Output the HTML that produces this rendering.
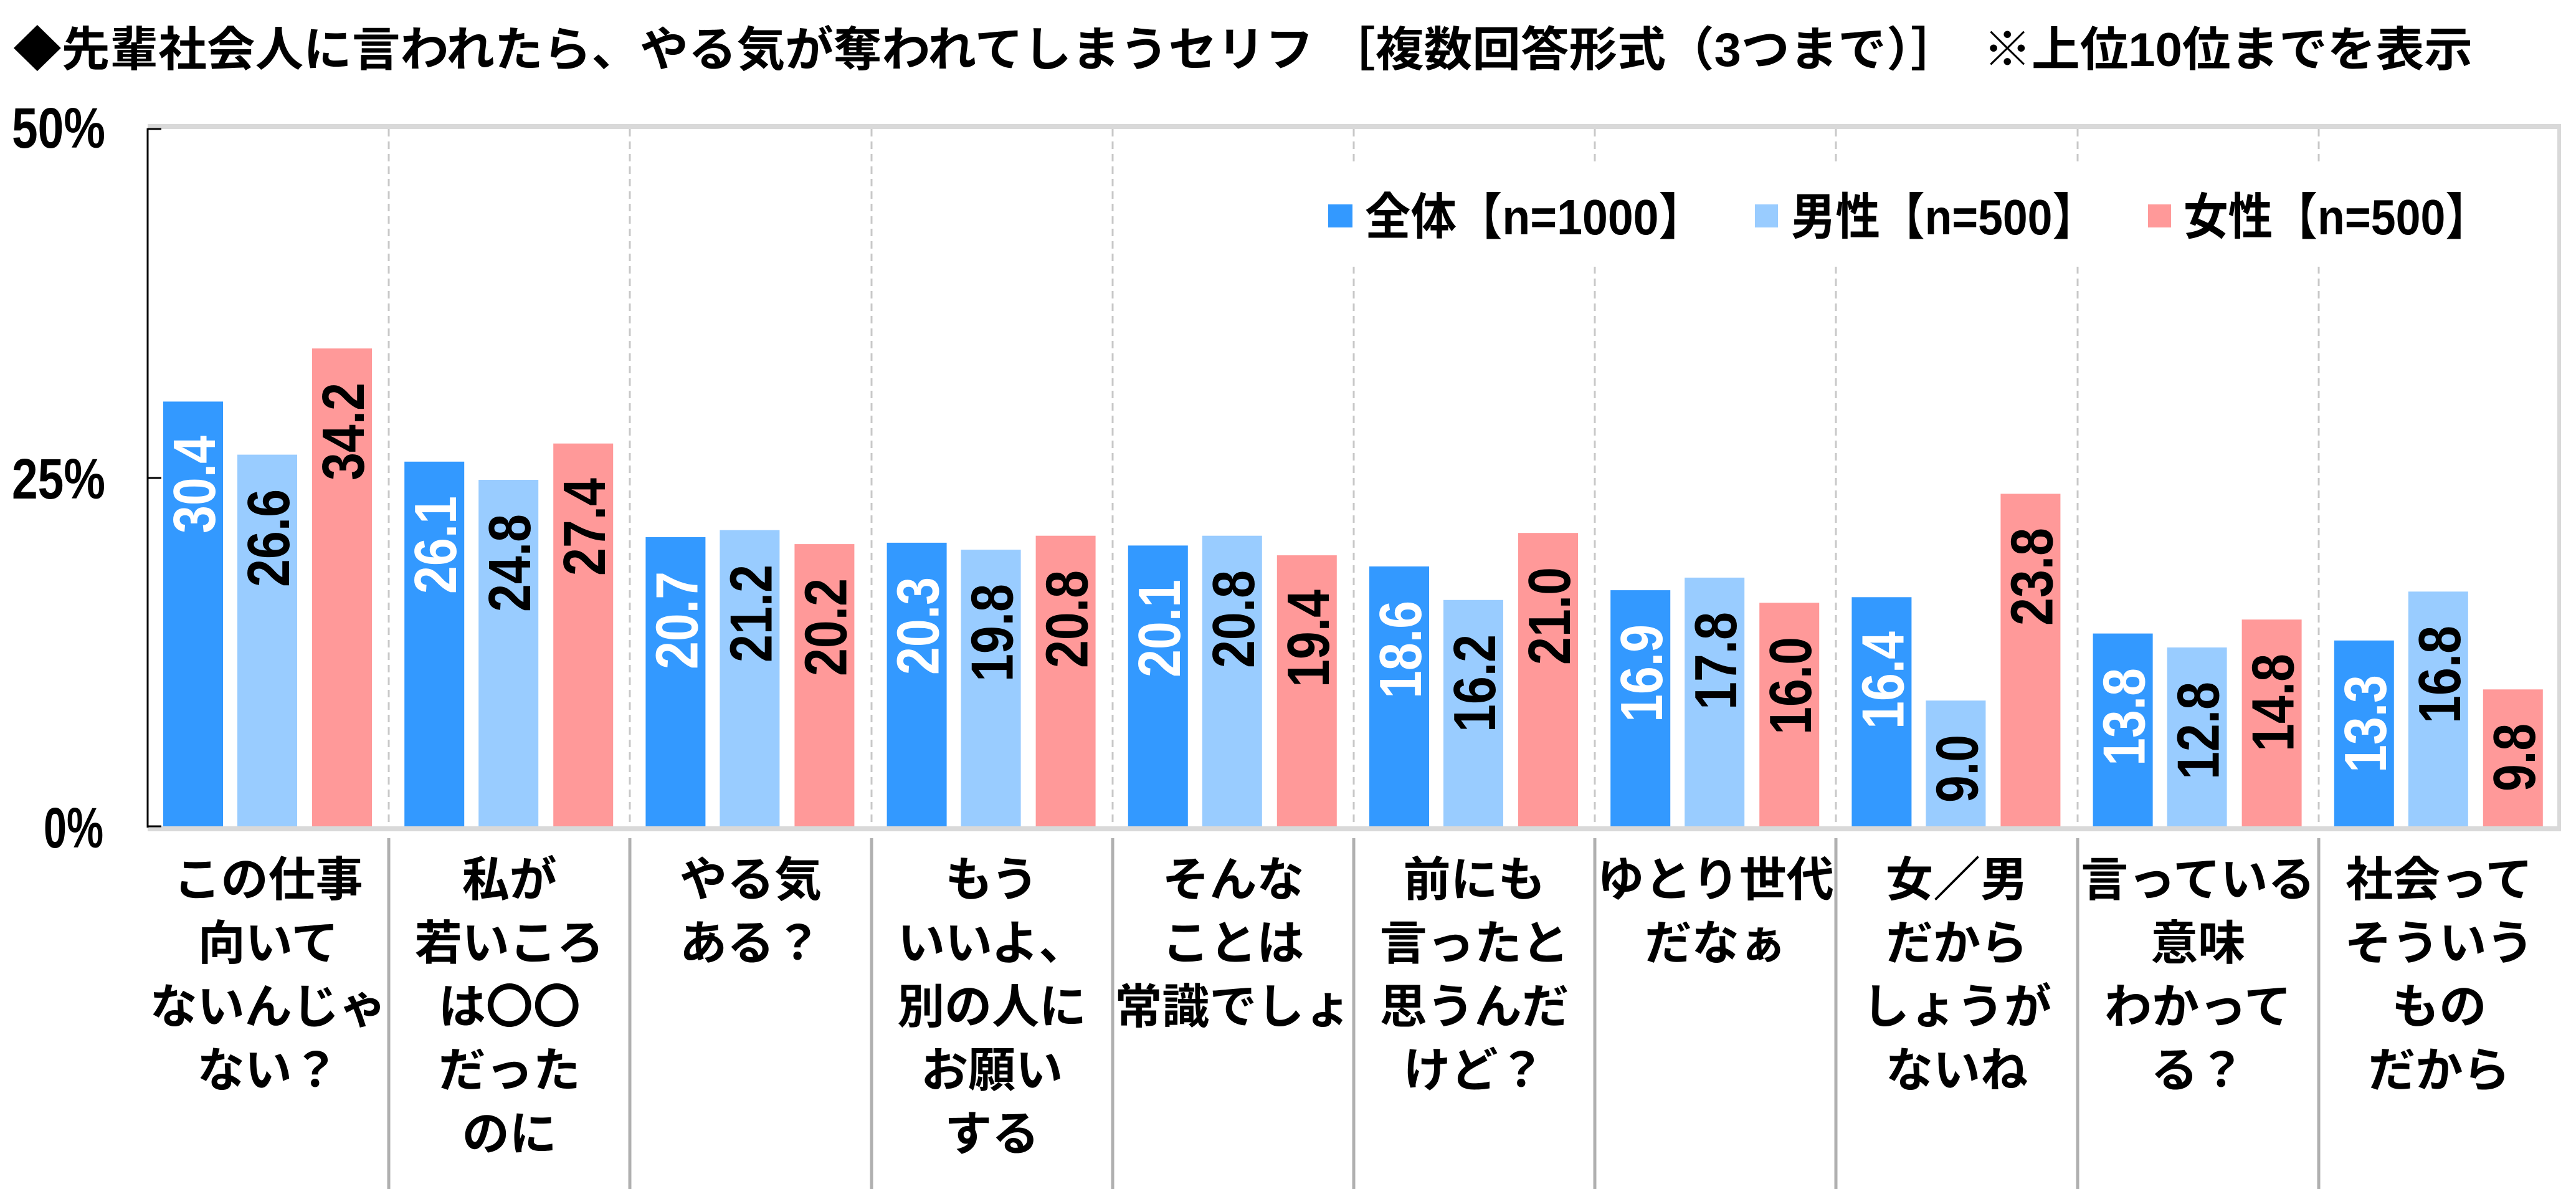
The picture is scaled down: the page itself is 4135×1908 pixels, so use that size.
<!DOCTYPE html>
<html><head><meta charset="utf-8"><style>
html,body{margin:0;padding:0;background:#fff;}
svg{display:block;}
.j{font-family:"Liberation Sans","Noto Sans CJK JP",sans-serif;font-weight:bold;}
.v{font-family:"Liberation Sans",sans-serif;font-weight:bold;font-size:96px;}
.c{font-family:"Liberation Sans","Noto Sans CJK JP",sans-serif;font-weight:bold;font-size:76px;text-anchor:middle;}
</style></head><body>
<svg width="4135" height="1908" viewBox="0 0 4135 1908" xmlns="http://www.w3.org/2000/svg">
<rect width="4135" height="1908" fill="#fff"/>
<text class="j" x="21" y="106" font-size="76" textLength="3948" lengthAdjust="spacingAndGlyphs">◆先輩社会人に言われたら、やる気が奪われてしまうセリフ ［複数回答形式（3つまで）］　※上位10位までを表示</text>
<!-- plot frame -->
<rect x="237" y="199" width="3874" height="8" fill="#d9d9d9"/>
<rect x="237" y="1326" width="3874" height="8" fill="#d9d9d9"/>
<rect x="4105" y="199" width="6" height="1135" fill="#d9d9d9"/>
<g stroke="#c8c8c8" stroke-width="3" stroke-dasharray="12,8">
<line x1="624" y1="207" x2="624" y2="1326"/><line x1="1011" y1="207" x2="1011" y2="1326"/><line x1="1399" y1="207" x2="1399" y2="1326"/><line x1="1786" y1="207" x2="1786" y2="1326"/><line x1="2173" y1="207" x2="2173" y2="1326"/><line x1="2560" y1="207" x2="2560" y2="1326"/><line x1="2947" y1="207" x2="2947" y2="1326"/><line x1="3335" y1="207" x2="3335" y2="1326"/><line x1="3722" y1="207" x2="3722" y2="1326"/>
</g>
<g stroke="#b0b0b0" stroke-width="5">
<line x1="624" y1="1345" x2="624" y2="1908"/><line x1="1011" y1="1345" x2="1011" y2="1908"/><line x1="1399" y1="1345" x2="1399" y2="1908"/><line x1="1786" y1="1345" x2="1786" y2="1908"/><line x1="2173" y1="1345" x2="2173" y2="1908"/><line x1="2560" y1="1345" x2="2560" y2="1908"/><line x1="2947" y1="1345" x2="2947" y2="1908"/><line x1="3335" y1="1345" x2="3335" y2="1908"/><line x1="3722" y1="1345" x2="3722" y2="1908"/>
</g>
<!-- legend -->
<rect x="2120" y="263" width="1920" height="165" fill="#fff"/>
<rect x="2132" y="328" width="39" height="37" fill="#3399ff"/>
<text class="j" x="2191" y="376" font-size="80" textLength="545" lengthAdjust="spacingAndGlyphs">全体【n=1000】</text>
<rect x="2817" y="328" width="37" height="37" fill="#99ccff"/>
<text class="j" x="2875" y="376" font-size="80" textLength="491" lengthAdjust="spacingAndGlyphs">男性【n=500】</text>
<rect x="3448" y="328" width="37" height="37" fill="#ff9999"/>
<text class="j" x="3505" y="376" font-size="80" textLength="492" lengthAdjust="spacingAndGlyphs">女性【n=500】</text>
<!-- y axis -->
<g stroke="#000" stroke-width="3"><line x1="237" y1="206" x2="237" y2="1328"/><line x1="237" y1="207" x2="259" y2="207"/><line x1="237" y1="767" x2="259" y2="767"/><line x1="237" y1="1326" x2="259" y2="1326"/></g>
<text class="j" x="19" y="237" font-size="92" textLength="150" lengthAdjust="spacingAndGlyphs">50%</text>
<text class="j" x="19" y="800" font-size="92" textLength="150" lengthAdjust="spacingAndGlyphs">25%</text>
<text class="j" x="70" y="1360" font-size="92" textLength="96" lengthAdjust="spacingAndGlyphs">0%</text>
<!-- bars -->
<g fill="#3399ff">
<rect x="262" y="644.4" width="96" height="681.6"/><rect x="649.2" y="740.8" width="96" height="585.2"/><rect x="1036.4" y="861.9" width="96" height="464.1"/><rect x="1423.6" y="870.9" width="96" height="455.1"/><rect x="1810.8" y="875.4" width="96" height="450.6"/><rect x="2198" y="909" width="96" height="417"/><rect x="2585.2" y="947.1" width="96" height="378.9"/><rect x="2972.4" y="958.3" width="96" height="367.7"/><rect x="3359.6" y="1016.6" width="96" height="309.4"/><rect x="3746.8" y="1027.8" width="96" height="298.2"/>
</g>
<g fill="#99ccff">
<rect x="381" y="729.6" width="96" height="596.4"/><rect x="768.2" y="770" width="96" height="556"/><rect x="1155.4" y="850.7" width="96" height="475.3"/><rect x="1542.6" y="882.1" width="96" height="443.9"/><rect x="1929.8" y="859.7" width="96" height="466.3"/><rect x="2317" y="962.8" width="96" height="363.2"/><rect x="2704.2" y="926.9" width="96" height="399.1"/><rect x="3091.4" y="1124.2" width="96" height="201.8"/><rect x="3478.6" y="1039" width="96" height="287"/><rect x="3865.8" y="949.3" width="96" height="376.7"/>
</g>
<g fill="#ff9999">
<rect x="501" y="559.2" width="96" height="766.8"/><rect x="888.2" y="711.7" width="96" height="614.3"/><rect x="1275.4" y="873.1" width="96" height="452.9"/><rect x="1662.6" y="859.7" width="96" height="466.3"/><rect x="2049.8" y="891.1" width="96" height="434.9"/><rect x="2437" y="855.2" width="96" height="470.8"/><rect x="2824.2" y="967.3" width="96" height="358.7"/><rect x="3211.4" y="792.4" width="96" height="533.6"/><rect x="3598.6" y="994.2" width="96" height="331.8"/><rect x="3985.8" y="1106.3" width="96" height="219.7"/>
</g>
<!-- value labels -->
<g class="v" text-anchor="end" fill="#fff">
<text transform="translate(345,699) rotate(-90)" textLength="157" lengthAdjust="spacingAndGlyphs">30.4</text>
<text transform="translate(732.2,796) rotate(-90)" textLength="157" lengthAdjust="spacingAndGlyphs">26.1</text>
<text transform="translate(1119.4,917) rotate(-90)" textLength="157" lengthAdjust="spacingAndGlyphs">20.7</text>
<text transform="translate(1506.6,926) rotate(-90)" textLength="157" lengthAdjust="spacingAndGlyphs">20.3</text>
<text transform="translate(1893.8,930) rotate(-90)" textLength="157" lengthAdjust="spacingAndGlyphs">20.1</text>
<text transform="translate(2281,964) rotate(-90)" textLength="157" lengthAdjust="spacingAndGlyphs">18.6</text>
<text transform="translate(2668.2,1002) rotate(-90)" textLength="157" lengthAdjust="spacingAndGlyphs">16.9</text>
<text transform="translate(3055.4,1013) rotate(-90)" textLength="157" lengthAdjust="spacingAndGlyphs">16.4</text>
<text transform="translate(3442.6,1072) rotate(-90)" textLength="157" lengthAdjust="spacingAndGlyphs">13.8</text>
<text transform="translate(3829.8,1083) rotate(-90)" textLength="157" lengthAdjust="spacingAndGlyphs">13.3</text>
</g>
<g class="v" text-anchor="end" fill="#000">
<text transform="translate(464,785) rotate(-90)" textLength="157" lengthAdjust="spacingAndGlyphs">26.6</text>
<text transform="translate(851.2,825) rotate(-90)" textLength="157" lengthAdjust="spacingAndGlyphs">24.8</text>
<text transform="translate(1238.4,906) rotate(-90)" textLength="157" lengthAdjust="spacingAndGlyphs">21.2</text>
<text transform="translate(1625.6,937) rotate(-90)" textLength="157" lengthAdjust="spacingAndGlyphs">19.8</text>
<text transform="translate(2012.8,915) rotate(-90)" textLength="157" lengthAdjust="spacingAndGlyphs">20.8</text>
<text transform="translate(2400,1018) rotate(-90)" textLength="157" lengthAdjust="spacingAndGlyphs">16.2</text>
<text transform="translate(2787.2,982) rotate(-90)" textLength="157" lengthAdjust="spacingAndGlyphs">17.8</text>
<text transform="translate(3174.4,1179) rotate(-90)" textLength="109" lengthAdjust="spacingAndGlyphs">9.0</text>
<text transform="translate(3561.6,1094) rotate(-90)" textLength="157" lengthAdjust="spacingAndGlyphs">12.8</text>
<text transform="translate(3948.8,1004) rotate(-90)" textLength="157" lengthAdjust="spacingAndGlyphs">16.8</text>
<text transform="translate(584,614) rotate(-90)" textLength="157" lengthAdjust="spacingAndGlyphs">34.2</text>
<text transform="translate(971.2,767) rotate(-90)" textLength="157" lengthAdjust="spacingAndGlyphs">27.4</text>
<text transform="translate(1358.4,928) rotate(-90)" textLength="157" lengthAdjust="spacingAndGlyphs">20.2</text>
<text transform="translate(1745.6,915) rotate(-90)" textLength="157" lengthAdjust="spacingAndGlyphs">20.8</text>
<text transform="translate(2132.8,946) rotate(-90)" textLength="157" lengthAdjust="spacingAndGlyphs">19.4</text>
<text transform="translate(2520,910) rotate(-90)" textLength="157" lengthAdjust="spacingAndGlyphs">21.0</text>
<text transform="translate(2907.2,1022) rotate(-90)" textLength="157" lengthAdjust="spacingAndGlyphs">16.0</text>
<text transform="translate(3294.4,847) rotate(-90)" textLength="157" lengthAdjust="spacingAndGlyphs">23.8</text>
<text transform="translate(3681.6,1049) rotate(-90)" textLength="157" lengthAdjust="spacingAndGlyphs">14.8</text>
<text transform="translate(4068.8,1161) rotate(-90)" textLength="109" lengthAdjust="spacingAndGlyphs">9.8</text>
</g>
<!-- category labels -->
<g class="c" fill="#000">
<text x="430.6" y="1438">この仕事</text><text x="430.6" y="1540">向いて</text><text x="430.6" y="1642">ないんじゃ</text><text x="430.6" y="1744">ない？</text>
<text x="817.8" y="1438">私が</text><text x="817.8" y="1540">若いころ</text><text x="817.8" y="1642">は〇〇</text><text x="817.8" y="1744">だった</text><text x="817.8" y="1846">のに</text>
<text x="1205" y="1438">やる気</text><text x="1205" y="1540">ある？</text>
<text x="1592.2" y="1438">もう</text><text x="1592.2" y="1540">いいよ、</text><text x="1592.2" y="1642">別の人に</text><text x="1592.2" y="1744">お願い</text><text x="1592.2" y="1846">する</text>
<text x="1979.4" y="1438">そんな</text><text x="1979.4" y="1540">ことは</text><text x="1979.4" y="1642">常識でしょ</text>
<text x="2366.6" y="1438">前にも</text><text x="2366.6" y="1540">言ったと</text><text x="2366.6" y="1642">思うんだ</text><text x="2366.6" y="1744">けど？</text>
<text x="2753.8" y="1438">ゆとり世代</text><text x="2753.8" y="1540">だなぁ</text>
<text x="3141" y="1438">女／男</text><text x="3141" y="1540">だから</text><text x="3141" y="1642">しょうが</text><text x="3141" y="1744">ないね</text>
<text x="3528.2" y="1438">言っている</text><text x="3528.2" y="1540">意味</text><text x="3528.2" y="1642">わかって</text><text x="3528.2" y="1744">る？</text>
<text x="3915.4" y="1438">社会って</text><text x="3915.4" y="1540">そういう</text><text x="3915.4" y="1642">もの</text><text x="3915.4" y="1744">だから</text>
</g>
</svg>
</body></html>
